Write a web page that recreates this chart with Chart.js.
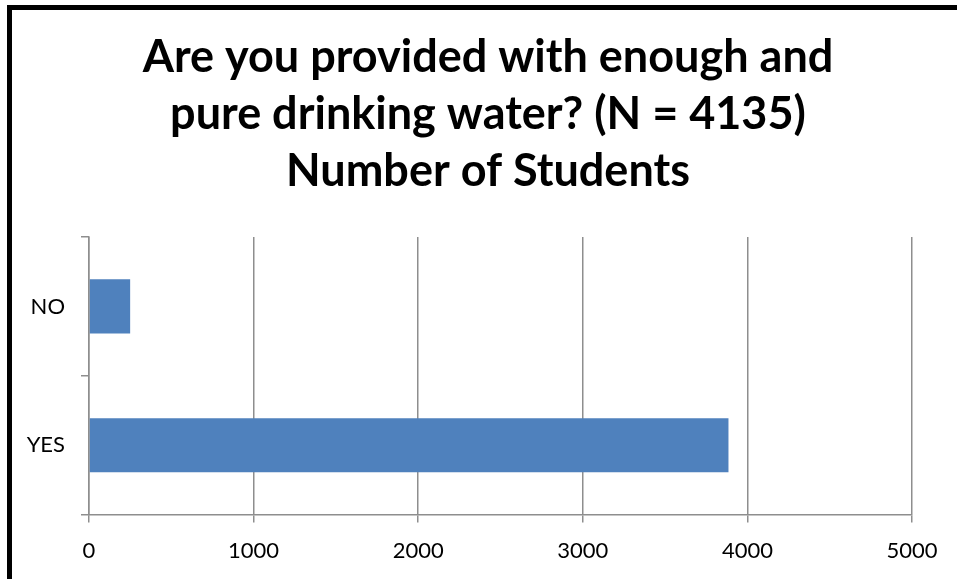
<!DOCTYPE html>
<html>
<head>
<meta charset="utf-8">
<script src="https://cdn.jsdelivr.net/npm/chart.js@4"></script>
<style>
    body { margin: 0; background: #fff; }
    #wrap { position: relative; width: 957px; height: 579px; overflow: hidden; background: #fff; }
    #frame { position: absolute; left: 7px; top: 5px; width: 1100px; height: 800px; border: 5px solid #000; }
    #chart { position: absolute; left: 0; top: 0; }
</style>
</head>
<body>
<div id="wrap">
    <div id="frame"></div>
    <canvas id="chart" width="957" height="579"></canvas>
</div>
<script>
// Chart data
const categories = ['NO', 'YES'];
const students = [250, 3885];
const xTicks = [0, 1000, 2000, 3000, 4000, 5000];
const titleLines = ['Are you provided with enough and', 'pure drinking water? (N = 4135)', 'Number of Students'];

const gridGray = '#8e8e8e';

const ctx = document.getElementById('chart');
new Chart(ctx, {
    type: 'bar',
    data: {
        labels: categories,
        datasets: [{
            label: 'Number of Students',
            data: students,
            backgroundColor: '#4f81bd',
            borderWidth: 0,
            barPercentage: 0.39,
            categoryPercentage: 1
        }]
    },
    options: {
        indexAxis: 'y',
        responsive: false,
        animation: false,
        layout: {
            padding: { left: 19, right: 0, top: 29, bottom: 0 }
        },
        plugins: {
            legend: { display: false },
            tooltip: { enabled: false },
            title: {
                display: true,
                text: titleLines,
                color: '#000',
                font: { family: 'Lato', size: 45, weight: 'bold', lineHeight: 1.267 },
                padding: { top: 0, bottom: 37 }
            }
        },
        scales: {
            x: {
                min: 0,
                max: 5000,
                afterBuildTicks: function(axis) {
                    axis.ticks = xTicks.map(v => ({ value: v }));
                },
                grid: {
                    color: gridGray,
                    lineWidth: 1.5,
                    tickLength: 8
                },
                border: { color: gridGray, width: 1.5 },
                ticks: {
                    color: '#000',
                    padding: 15,
                    font: { family: 'Lato', size: 22 },
                    callback: function(value) {
                        return String(value);
                    }
                }
            },
            y: {
                afterFit: function(axis) {
                    axis.width = 70;
                },
                grid: {
                    display: true,
                    offset: true,
                    drawOnChartArea: false,
                    color: gridGray,
                    lineWidth: 1.5,
                    tickLength: 8
                },
                border: { color: gridGray, width: 1.5 },
                ticks: {
                    color: '#000',
                    padding: 16,
                    font: { family: 'Lato', size: 22 }
                }
            },
            // empty right-hand axis, only used to leave room on the right
            yRight: {
                type: 'linear',
                position: 'right',
                min: 0,
                max: 1,
                afterFit: function(axis) {
                    axis.width = 45;
                },
                grid: { display: false },
                border: { display: false },
                ticks: { display: false }
            }
        }
    }
});
</script>
</body>
</html>
